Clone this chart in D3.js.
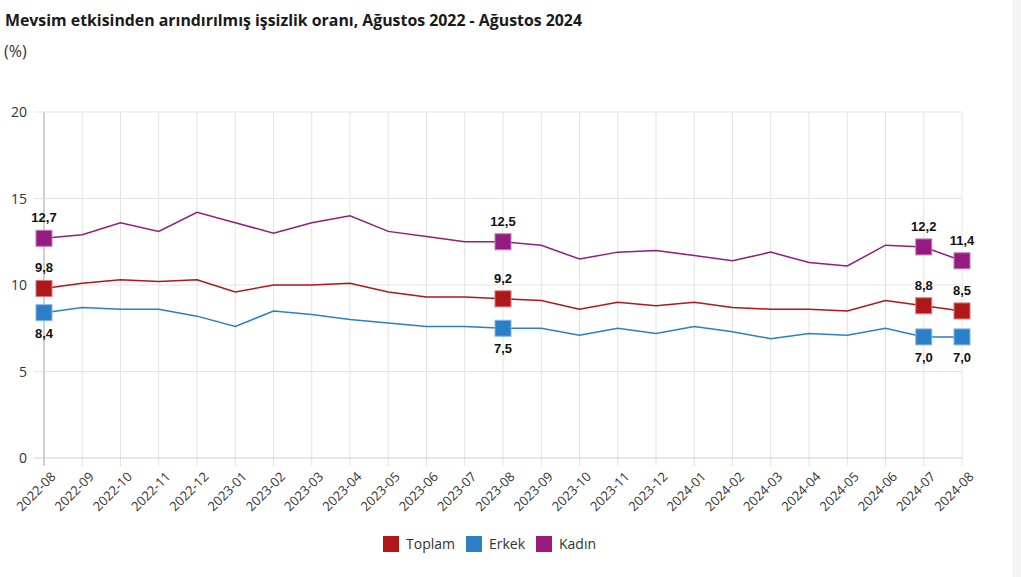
<!DOCTYPE html>
<html><head><meta charset="utf-8">
<script src="https://cdn.jsdelivr.net/npm/d3@7"></script>
<style>body{margin:0;background:#fff;font-family:"Open Sans",sans-serif;}</style>
</head><body>
<svg id="c" width="1021" height="577"></svg>
<script>
const months = ["2022-08","2022-09","2022-10","2022-11","2022-12","2023-01","2023-02","2023-03","2023-04","2023-05","2023-06","2023-07","2023-08","2023-09","2023-10","2023-11","2023-12","2024-01","2024-02","2024-03","2024-04","2024-05","2024-06","2024-07","2024-08"];
const toplam = [9.8,10.1,10.3,10.2,10.3,9.6,10.0,10.0,10.1,9.6,9.3,9.3,9.2,9.1,8.6,9.0,8.8,9.0,8.7,8.6,8.6,8.5,9.1,8.8,8.5];
const erkek  = [8.4,8.7,8.6,8.6,8.2,7.6,8.5,8.3,8.0,7.8,7.6,7.6,7.5,7.5,7.1,7.5,7.2,7.6,7.3,6.9,7.2,7.1,7.5,7.0,7.0];
const kadin  = [12.7,12.9,13.6,13.1,14.2,13.6,13.0,13.6,14.0,13.1,12.8,12.5,12.5,12.3,11.5,11.9,12.0,11.7,11.4,11.9,11.3,11.1,12.3,12.2,11.4];
const yTicks = [0,5,10,15,20];
const markedMonths = ["2022-08","2023-08","2024-07","2024-08"];
const seriesNames = ["Toplam","Erkek","Kadın"];
const colors = ["#b01718","#2a7fc6","#951b81"];
const markerStroke = ["#d9777a","#86b8e2","#c77ab9"];

const svg = d3.select("#c");
const x = d3.scalePoint().domain(months).range([44,962]);
const y = d3.scaleLinear().domain([0,20]).range([458,112]);

svg.append("text").attr("x",5).attr("y",26).attr("font-size",16).attr("font-weight","bold")
  .attr("fill","#1a1a1a").attr("textLength",577).attr("lengthAdjust","spacingAndGlyphs")
  .text("Mevsim etkisinden arındırılmış işsizlik oranı, Ağustos 2022 - Ağustos 2024");
svg.append("text").attr("x",4).attr("y",57).attr("font-size",16).attr("fill","#333").text("(%)");

// grid
const g = svg.append("g");
g.selectAll(".v").data(months).join("line")
  .attr("x1",d=>x(d)).attr("x2",d=>x(d)).attr("y1",112).attr("y2",466)
  .attr("stroke",(d,i)=>i===0?"#d0d0d0":"#e3e3e3").attr("stroke-width",(d,i)=>i===0?2:1);
g.selectAll(".h").data(yTicks).join("line")
  .attr("x1",34).attr("x2",962).attr("y1",d=>y(d)).attr("y2",d=>y(d))
  .attr("stroke",d=>d===0?"#d0d0d0":"#e3e3e3").attr("stroke-width",1);
g.selectAll(".yl").data(yTicks).join("text")
  .attr("x",27).attr("y",d=>y(d)+5).attr("text-anchor","end").attr("font-size",14).attr("fill","#333").text(d=>d);
g.selectAll(".xl").data(months).join("text")
  .attr("transform",d=>`translate(${x(d)+6},${471}) rotate(-45)`)
  .attr("text-anchor","end").attr("font-size",13).attr("fill","#333").attr("dy","0.7em").text(d=>d);

const data = [toplam,erkek,kadin];
const line = d3.line().x((d,i)=>x(months[i])).y(d=>y(d));
data.forEach((s,k)=>{
  svg.append("path").attr("d",line(s)).attr("fill","none").attr("stroke",colors[k]).attr("stroke-width",1.5);
});
data.forEach((s,k)=>{
  const pts = months.map((m,i)=>({m,v:s[i]})).filter(p=>markedMonths.includes(p.m));
  svg.selectAll(null).data(pts).join("rect")
    .attr("x",p=>x(p.m)-8).attr("y",p=>y(p.v)-8).attr("width",16).attr("height",16)
    .attr("fill",colors[k]).attr("stroke",markerStroke[k]).attr("stroke-width",1);
  svg.selectAll(null).data(pts).join("text")
    .attr("x",p=>x(p.m)).attr("y",p=>k===1? y(p.v)+25 : y(p.v)-16)
    .attr("text-anchor","middle").attr("font-size",13).attr("font-weight","bold")
    .attr("font-family","Liberation Sans, Arial, sans-serif").attr("fill","#111")
    .text(p=>p.v.toFixed(1).replace(".",","));
});

// legend
const lg = svg.append("g");
const lx = [383,466,536];
seriesNames.forEach((n,k)=>{
  lg.append("rect").attr("x",lx[k]).attr("y",536).attr("width",16).attr("height",16).attr("fill",colors[k]);
  lg.append("text").attr("x",lx[k]+23).attr("y",549).attr("font-size",14).attr("fill","#333").text(n);
});
// right edge faint strip
svg.append("rect").attr("x",1013).attr("y",0).attr("width",8).attr("height",577).attr("fill","#f4f4f4");
</script>
</body></html>
